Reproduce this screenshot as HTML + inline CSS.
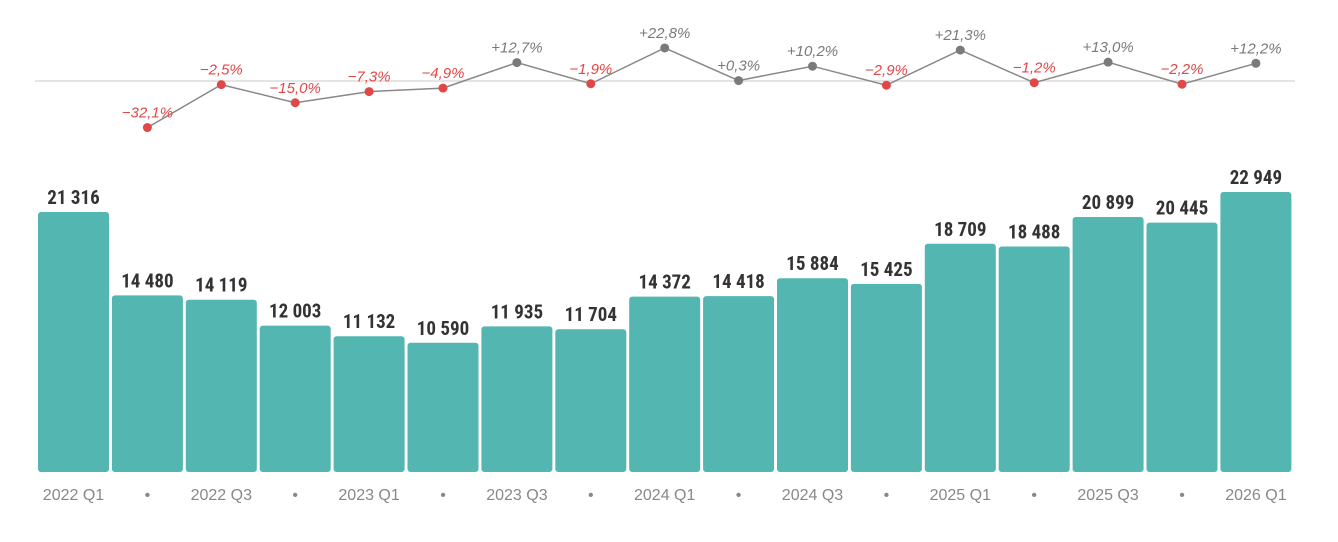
<!DOCTYPE html>
<html><head><meta charset="utf-8"><style>
html,body{margin:0;padding:0;background:#fff;width:1338px;height:542px;overflow:hidden}
svg{display:block}
.bl{font-family:"Roboto Condensed","Liberation Sans Narrow","Liberation Sans",sans-serif;font-size:19px;font-weight:bold;fill:#333;text-anchor:middle}
.ax{font-family:"Liberation Sans",sans-serif;font-size:16px;fill:#888;text-anchor:middle}
.pl{font-family:"Liberation Sans",sans-serif;font-size:15px;font-style:italic;text-anchor:middle}
</style></head><body>
<svg id="s" width="1338" height="542" xmlns="http://www.w3.org/2000/svg">
<line x1="35" y1="81" x2="1295" y2="81" stroke="#dcdcdc" stroke-width="1.5"/>
</svg>
<script>
(function(){
var s=document.getElementById('s'),NS='http://www.w3.org/2000/svg';
function el(t,a,txt){var e=document.createElementNS(NS,t);for(var k in a)e.setAttribute(k,a[k]);if(txt!=null)e.textContent=txt;s.appendChild(e);return e;}
var v=[21316,14480,14119,12003,11132,10590,11935,11704,14372,14418,15884,15425,18709,18488,20899,20445,22949];
var lab=['2022 Q1','•','2022 Q3','•','2023 Q1','•','2023 Q3','•','2024 Q1','•','2024 Q3','•','2025 Q1','•','2025 Q3','•','2026 Q1'];
var p=[null,-32.1,-2.5,-15.0,-7.3,-4.9,12.7,-1.9,22.8,0.3,10.2,-2.9,21.3,-1.2,13.0,-2.2,12.2];
for(var i=0;i<17;i++){
 var x=38+i*73.9,cx=x+35.5,h=v[i]*0.0122,ty=472-h;
 el('rect',{x:x,y:ty,width:71,height:h,rx:3,fill:'#53b6b0'});
 el('text',{x:cx,y:ty-8,'class':'bl'},String(v[i]).replace(/(\d)(\d{3})$/,'$1 $2'));
 el('text',{x:cx,y:500,'class':'ax','font-size':lab[i]=='•'?12:16},lab[i]);
}
var pts=[];
for(var i=1;i<17;i++){pts.push((73.5+i*73.9)+','+(81-p[i]*1.45));}
el('polyline',{points:pts.join(' '),fill:'none',stroke:'#888','stroke-width':1.5});
for(var i=1;i<17;i++){
 var cx=73.5+i*73.9,cy=81-p[i]*1.45,neg=p[i]<0,c=neg?'#e04848':'#7a7a7a';
 el('circle',{cx:cx,cy:cy,r:4.5,fill:c});
 var str=(neg?'\u2212':'+')+Math.abs(p[i]).toFixed(1).replace('.',',')+'%';
 el('text',{x:cx,y:cy-10,'class':'pl',fill:c},str);
}
})();
</script>
</body></html>
